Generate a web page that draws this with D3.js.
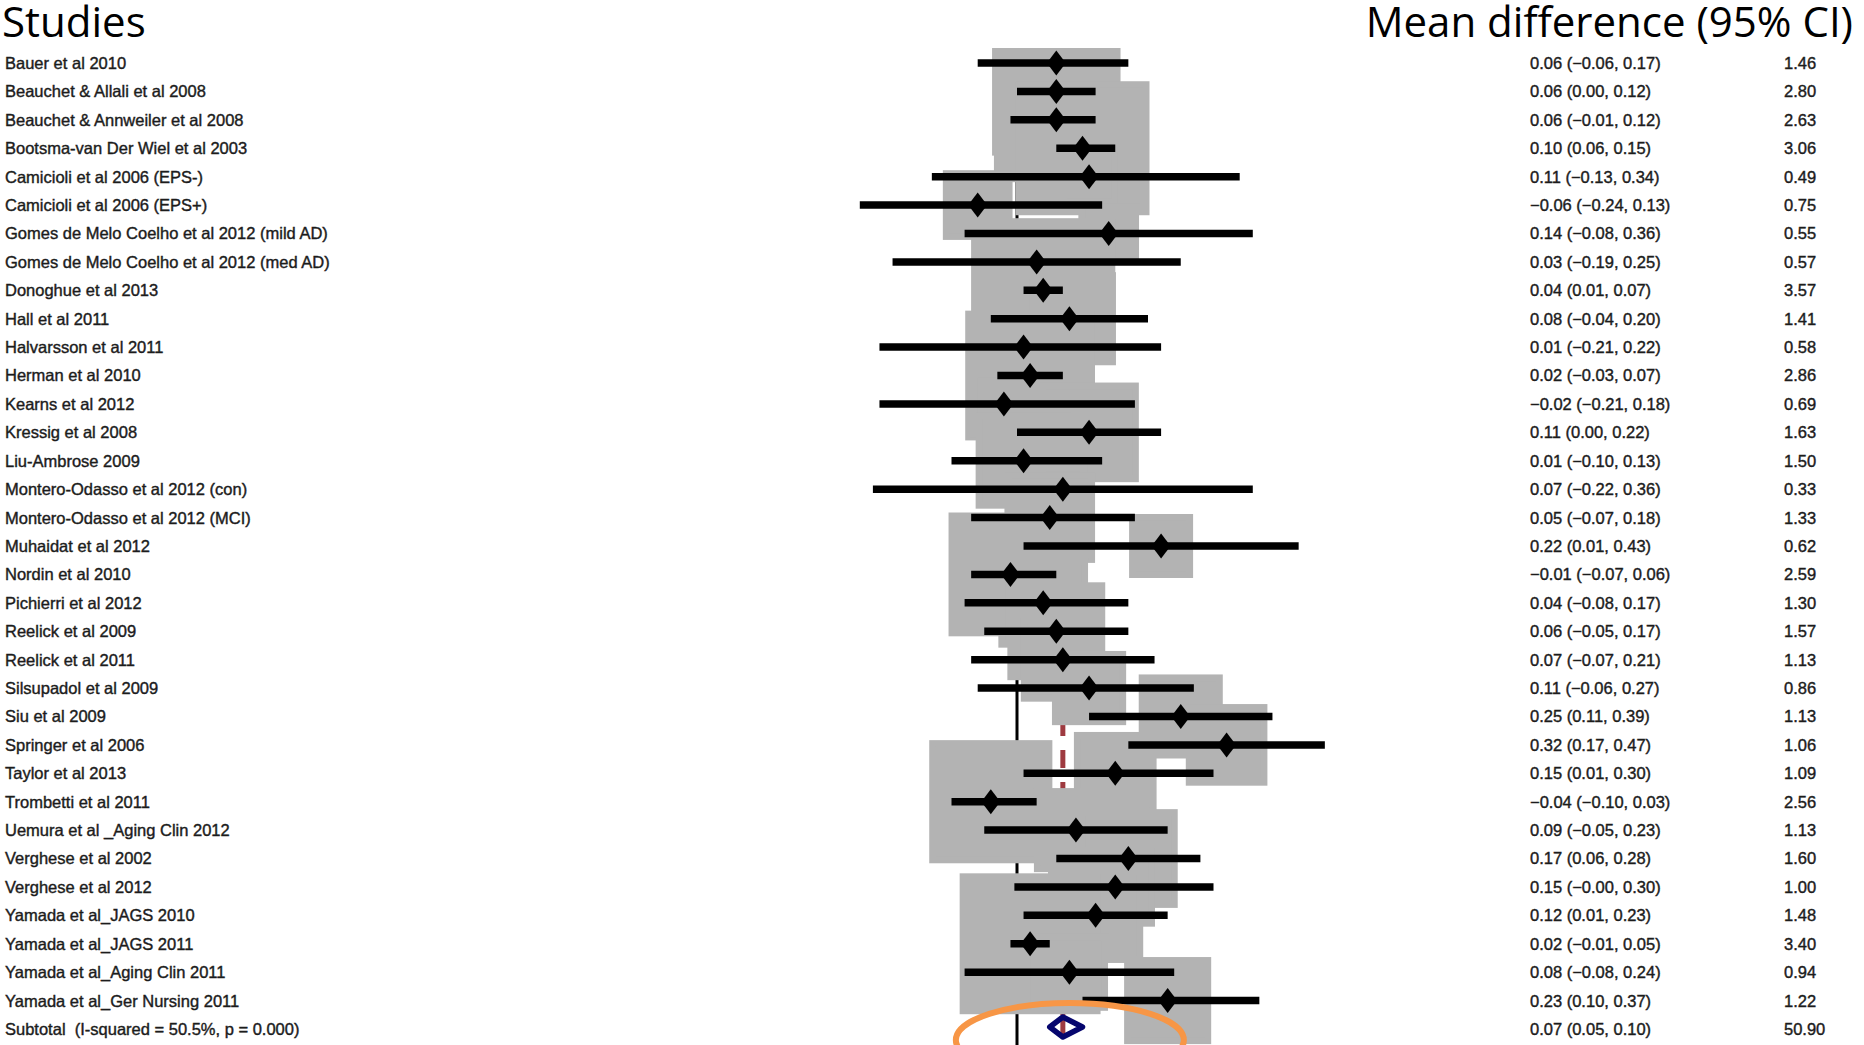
<!DOCTYPE html>
<html>
<head>
<meta charset="utf-8">
<script src="https://cdn.jsdelivr.net/npm/d3@7"></script>
<style>
  html, body { margin: 0; padding: 0; background: #ffffff; }
  svg { display: block; }
</style>
</head>
<body>
<script>
// ---------------- DATA ----------------
const studies = [
  "Bauer et al 2010",
  "Beauchet & Allali et al 2008",
  "Beauchet & Annweiler et al 2008",
  "Bootsma-van Der Wiel et al 2003",
  "Camicioli et al 2006 (EPS-)",
  "Camicioli et al 2006 (EPS+)",
  "Gomes de Melo Coelho et al 2012 (mild AD)",
  "Gomes de Melo Coelho et al 2012 (med AD)",
  "Donoghue et al 2013",
  "Hall et al 2011",
  "Halvarsson et al 2011",
  "Herman et al 2010",
  "Kearns et al 2012",
  "Kressig et al 2008",
  "Liu-Ambrose 2009",
  "Montero-Odasso et al 2012 (con)",
  "Montero-Odasso et al 2012 (MCI)",
  "Muhaidat et al 2012",
  "Nordin et al 2010",
  "Pichierri et al 2012",
  "Reelick et al 2009",
  "Reelick et al 2011",
  "Silsupadol et al 2009",
  "Siu et al 2009",
  "Springer et al 2006",
  "Taylor et al 2013",
  "Trombetti et al 2011",
  "Uemura et al _Aging Clin 2012",
  "Verghese et al 2002",
  "Verghese et al 2012",
  "Yamada et al_JAGS 2010",
  "Yamada et al_JAGS 2011",
  "Yamada et al_Aging Clin 2011",
  "Yamada et al_Ger Nursing 2011"
];
const estimates = [0.06, 0.06, 0.06, 0.10, 0.11, -0.06, 0.14, 0.03, 0.04, 0.08, 0.01, 0.02, -0.02, 0.11, 0.01, 0.07, 0.05, 0.22, -0.01, 0.04, 0.06, 0.07, 0.11, 0.25, 0.32, 0.15, -0.04, 0.09, 0.17, 0.15, 0.12, 0.02, 0.08, 0.23];
const lower     = [-0.06, 0.00, -0.01, 0.06, -0.13, -0.24, -0.08, -0.19, 0.01, -0.04, -0.21, -0.03, -0.21, 0.00, -0.10, -0.22, -0.07, 0.01, -0.07, -0.08, -0.05, -0.07, -0.06, 0.11, 0.17, 0.01, -0.10, -0.05, 0.06, -0.004, 0.01, -0.01, -0.08, 0.10];
const upper     = [0.17, 0.12, 0.12, 0.15, 0.34, 0.13, 0.36, 0.25, 0.07, 0.20, 0.22, 0.07, 0.18, 0.22, 0.13, 0.36, 0.18, 0.43, 0.06, 0.17, 0.17, 0.21, 0.27, 0.39, 0.47, 0.30, 0.03, 0.23, 0.28, 0.30, 0.23, 0.05, 0.24, 0.37];
const weights   = [1.46, 2.80, 2.63, 3.06, 0.49, 0.75, 0.55, 0.57, 3.57, 1.41, 0.58, 2.86, 0.69, 1.63, 1.50, 0.33, 1.33, 0.62, 2.59, 1.30, 1.57, 1.13, 0.86, 1.13, 1.06, 1.09, 2.56, 1.13, 1.60, 1.00, 1.48, 3.40, 0.94, 1.22];

const subtotalLabel = "Subtotal  (I-squared = 50.5%, p = 0.000)";
const pooledEstimate = 0.07;
const pooledLower = 0.05;
const pooledUpper = 0.10;
const pooledWeight = 50.90;
const nullValue = 0;

const leftTitle = "Studies";
const rightTitle = "Mean difference (95% CI)";

// ---------------- LAYOUT ----------------
const W = 1864, H = 1045;
const plotTop = 48;

const svg = d3.select("body").append("svg")
  .attr("width", W).attr("height", H)
  .attr("viewBox", `0 0 ${W} ${H}`);

const nRows = studies.length + 1;
const x = d3.scaleLinear().domain([-0.3, 0.5]).range([820.5, 1344.5]);
const y = d3.scaleLinear().domain([0, nRows - 1]).range([63, 1029]);
const boxSide = d3.scaleSqrt().domain([0, 3.57]).range([0, 137.5]);

const rows = studies.map((s, i) => ({
  label: s, est: estimates[i], lo: lower[i], hi: upper[i], w: weights[i], i
}));

const num = v => (v < 0 ? "\u2212" : "") + d3.format(".2f")(Math.abs(v));
const ciText = d => `${num(d.est)} (${num(d.lo)}, ${num(d.hi)})`;

// clip for plot region
svg.append("defs").append("clipPath").attr("id", "plotclip")
  .append("rect").attr("x", 0).attr("y", plotTop).attr("width", W).attr("height", H - plotTop);

const plot = svg.append("g").attr("clip-path", "url(#plotclip)");

// null line (behind boxes)
plot.append("line")
  .attr("x1", x(nullValue)).attr("x2", x(nullValue))
  .attr("y1", plotTop).attr("y2", H)
  .attr("stroke", "#000").attr("stroke-width", 3);

// pooled dashed line (behind boxes), through the study rows only
const dashLen = 18, gapLen = 14, dashPhase = 14;
const dashTop = y(6);
const dashBottom = y(nRows - 1) - 14;
plot.append("line")
  .attr("x1", x(pooledEstimate)).attr("x2", x(pooledEstimate))
  .attr("y1", dashTop).attr("y2", dashBottom)
  .attr("stroke", "#9e3a40").attr("stroke-width", 5)
  .attr("stroke-dasharray", `${dashLen} ${gapLen}`)
  .attr("stroke-dashoffset", ((dashTop - dashPhase) % (dashLen + gapLen)));

// weight boxes
plot.append("g").selectAll("rect").data(rows).join("rect")
  .attr("x", d => x(d.est) - boxSide(d.w) / 2)
  .attr("y", d => y(d.i) - boxSide(d.w) / 2)
  .attr("width", d => boxSide(d.w))
  .attr("height", d => boxSide(d.w))
  .attr("fill", "#b3b3b3")
  .attr("stroke", "#b3b3b3")
  .attr("stroke-width", 6.7);

// CI lines
plot.append("g").selectAll("line").data(rows).join("line")
  .attr("x1", d => x(d.lo)).attr("x2", d => x(d.hi))
  .attr("y1", d => y(d.i)).attr("y2", d => y(d.i))
  .attr("stroke", "#000").attr("stroke-width", 7.5);

// point estimates
const dw = 9.5, dh = 12.5;
plot.append("g").selectAll("path").data(rows).join("path")
  .attr("d", d => {
    const cx = x(d.est), cy = y(d.i);
    return `M${cx - dw},${cy}L${cx},${cy - dh}L${cx + dw},${cy}L${cx},${cy + dh}Z`;
  })
  .attr("fill", "#000");

// pooled diamond
const py = y(nRows - 1) - 2;
const ph = 10;
plot.append("line")
  .attr("x1", x(pooledEstimate)).attr("x2", x(pooledEstimate))
  .attr("y1", py - ph + 3).attr("y2", py + ph - 3)
  .attr("stroke", "#9e3a40").attr("stroke-width", 5);
plot.append("path")
  .attr("d", `M${x(pooledLower)},${py}L${x(pooledEstimate)},${py - ph}L${x(pooledUpper)},${py}L${x(pooledEstimate)},${py + ph}Z`)
  .attr("fill", "none")
  .attr("stroke", "#06066e")
  .attr("stroke-width", 5.5)
  .attr("stroke-linejoin", "round");

// orange annotation ellipse
svg.append("ellipse")
  .attr("cx", x(pooledEstimate) + 7)
  .attr("cy", y(nRows - 1) + 11)
  .attr("rx", 114).attr("ry", 37)
  .attr("fill", "none")
  .attr("stroke", "#f79646")
  .attr("stroke-width", 6);

// ---------------- TEXT ----------------
const labelFont = "'Liberation Sans', Arial, sans-serif";
const txt = svg.append("g")
  .attr("font-family", labelFont)
  .attr("font-size", 16.5)
  .attr("fill", "#1c1c1c")
  .attr("stroke", "#1c1c1c")
  .attr("stroke-width", 0.4);

txt.append("g").selectAll("text").data(rows).join("text")
  .attr("x", 5).attr("y", d => y(d.i)).attr("dy", "0.36em")
  .style("white-space", "pre")
  .text(d => d.label);
txt.append("text")
  .attr("x", 5).attr("y", y(nRows - 1)).attr("dy", "0.36em")
  .style("white-space", "pre")
  .text(subtotalLabel);

txt.append("g").selectAll("text").data(rows).join("text")
  .attr("x", 1530).attr("y", d => y(d.i)).attr("dy", "0.36em")
  .text(d => ciText(d));
txt.append("text")
  .attr("x", 1530).attr("y", y(nRows - 1)).attr("dy", "0.36em")
  .text(ciText({est: pooledEstimate, lo: pooledLower, hi: pooledUpper}));

txt.append("g").selectAll("text").data(rows).join("text")
  .attr("x", 1784).attr("y", d => y(d.i)).attr("dy", "0.36em")
  .text(d => d3.format(".2f")(d.w));
txt.append("text")
  .attr("x", 1784).attr("y", y(nRows - 1)).attr("dy", "0.36em")
  .text(d3.format(".2f")(pooledWeight));

// titles
const titleFont = "'Open Sans', 'Noto Sans', sans-serif";
svg.append("text")
  .attr("x", 2).attr("y", 37)
  .attr("font-family", titleFont).attr("font-size", 42)
  .attr("fill", "#000")
  .text(leftTitle);
svg.append("text")
  .attr("x", 1853).attr("y", 37)
  .attr("text-anchor", "end")
  .attr("font-family", titleFont).attr("font-size", 42)
  .attr("fill", "#000")
  .text(rightTitle);
</script>
</body>
</html>
